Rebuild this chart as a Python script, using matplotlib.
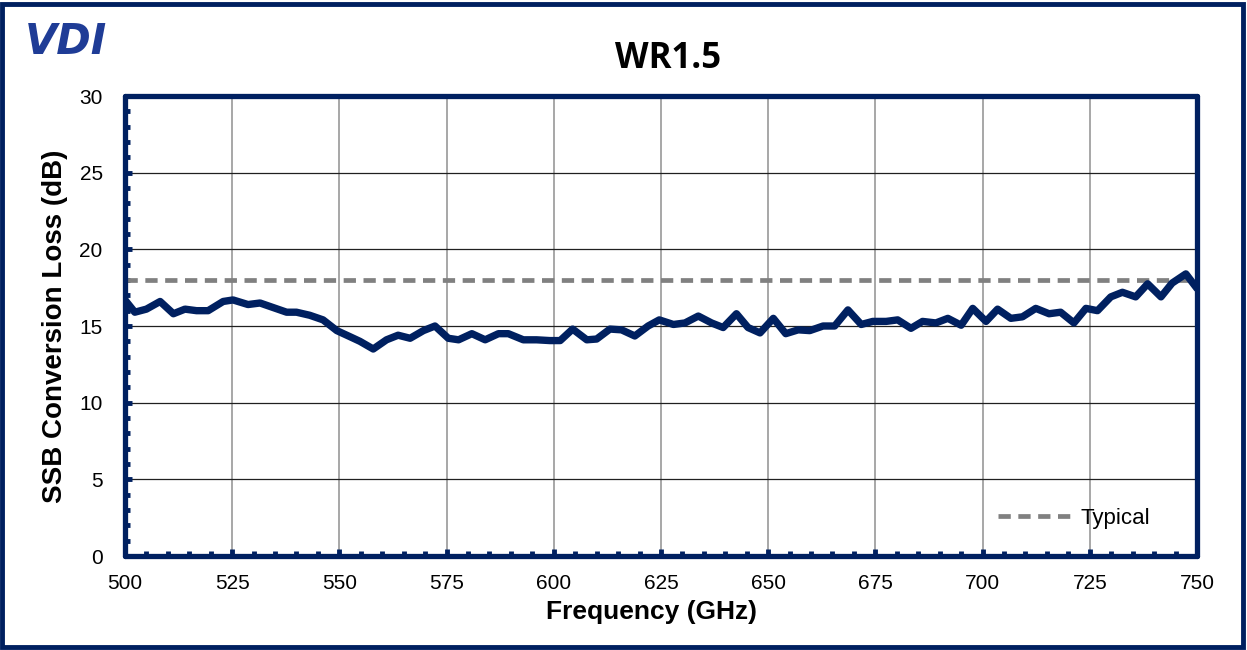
import matplotlib
matplotlib.use("Agg")
import matplotlib.pyplot as plt
from matplotlib.patches import Rectangle
from matplotlib.ticker import MultipleLocator

# values
freq_ghz = [500, 502.3, 505, 508.2, 511.3, 514, 516.7, 519.4, 522.9, 525.2,
            528.7, 531.5, 534.6, 537.7, 540, 543.1, 546.2, 549.4, 552.5, 554.8,
            557.9, 561, 563.7, 566.5, 569.6, 572.3, 575.4, 577.8, 580.9, 584,
            587.1, 589.4, 592.9, 596, 599.1, 601.5, 604.4, 607.7, 610, 613.1,
            615.8, 618.9, 622, 624.6, 627.9, 630.6, 633.7, 636.8, 639.5, 642.6,
            645.3, 648.1, 651.2, 654.1, 657, 659.7, 662.8, 665.5, 668.6, 671.7,
            674.4, 677.5, 680.2, 683.3, 686, 689.1, 691.9, 695, 697.7, 700.8,
            703.5, 706.6, 709.3, 712.4, 715.5, 718.2, 721.3, 724.1, 726.8, 729.9,
            732.6, 735.7, 738.5, 741.6, 744.2, 747.4, 750]
loss_db = [16.7, 15.9, 16.1, 16.6, 15.8, 16.1, 16.0, 16.0, 16.6, 16.7,
           16.4, 16.5, 16.2, 15.9, 15.9, 15.7, 15.4, 14.7, 14.3, 14.0,
           13.5, 14.1, 14.4, 14.2, 14.7, 15.0, 14.2, 14.1, 14.5, 14.1,
           14.5, 14.5, 14.1, 14.1, 14.05, 14.05, 14.8, 14.1, 14.15, 14.8,
           14.75, 14.35, 15.0, 15.4, 15.1, 15.2, 15.65, 15.2, 14.9, 15.8,
           14.9, 14.55, 15.5, 14.5, 14.75, 14.7, 15.0, 15.0, 16.05, 15.1,
           15.3, 15.3, 15.4, 14.85, 15.3, 15.2, 15.5, 15.05, 16.15, 15.3,
           16.1, 15.5, 15.6, 16.15, 15.8, 15.9, 15.2, 16.15, 16.0, 16.9,
           17.2, 16.9, 17.75, 16.9, 17.8, 18.4, 17.45]
typical_db = 18
x_range = [500, 750]
x_ticks = [500, 525, 550, 575, 600, 625, 650, 675, 700, 725, 750]
y_ticks = [0, 5, 10, 15, 20, 25, 30]

navy = "#002060"

fig = plt.figure(figsize=(12.47, 6.5), dpi=100)
fig.patches.append(Rectangle((0.002, 0.004), 0.995, 0.99, transform=fig.transFigure,
                             fill=False, edgecolor=navy, linewidth=3.5))

ax = fig.add_axes([0.1002, 0.1446, 0.8597, 0.7077])

ax.plot(freq_ghz, loss_db, color=navy, linewidth=5.3, solid_joinstyle="round",
        solid_capstyle="round", zorder=3)
ax.plot(x_range, [typical_db, typical_db], color="#808080", linewidth=3.4,
        linestyle=(0, (2.6, 1.6)), label="Typical", zorder=2)

ax.set_xlim(500, 750)
ax.set_ylim(0, 30)
ax.set_xticks(x_ticks)
ax.set_yticks(y_ticks)
ax.xaxis.set_minor_locator(MultipleLocator(5))
ax.yaxis.set_minor_locator(MultipleLocator(1))
ax.tick_params(which="both", direction="in", color=navy, width=3.5)
ax.tick_params(which="major", length=5)
ax.tick_params(which="minor", length=3.5)
ax.tick_params(axis="x", which="major", pad=13, labelsize=15)
ax.tick_params(axis="y", which="major", pad=16, labelsize=15)

ax.xaxis.grid(True, color="#A0A0A0", linewidth=1.3)
ax.yaxis.grid(True, color="#202020", linewidth=0.9)
ax.set_axisbelow(True)

for s in ax.spines.values():
    s.set_color(navy)
    s.set_linewidth(3.8)
    s.set_capstyle("round")
    s.set_zorder(4)

for lbl in ax.get_xticklabels() + ax.get_yticklabels():
    lbl.set_family("Liberation Sans")

ax.set_xlabel("Frequency (GHz)", fontsize=19, fontweight="bold",
              family="Liberation Sans")
ax.xaxis.set_label_coords(0.4907, -0.095)
ax.set_ylabel("SSB Conversion Loss (dB)", fontsize=20, fontweight="bold",
              family="Liberation Sans", labelpad=8)

fig.text(0.536, 0.91, "WR1.5", fontsize=25, fontweight="bold", family="Open Sans",
         ha="center", va="center")

# logo
fig.text(0.02, 0.935, "VDI", fontsize=30, fontweight="bold", style="italic",
         color="#1F3C96", family="DejaVu Sans", ha="left", va="center")

leg = ax.legend(loc="lower right", frameon=False, prop={"family": "Liberation Sans", "size": 16},
                handlelength=3.3, handletextpad=0.4, bbox_to_anchor=(0.975, 0.015))

fig.savefig("out.png", dpi=100)
